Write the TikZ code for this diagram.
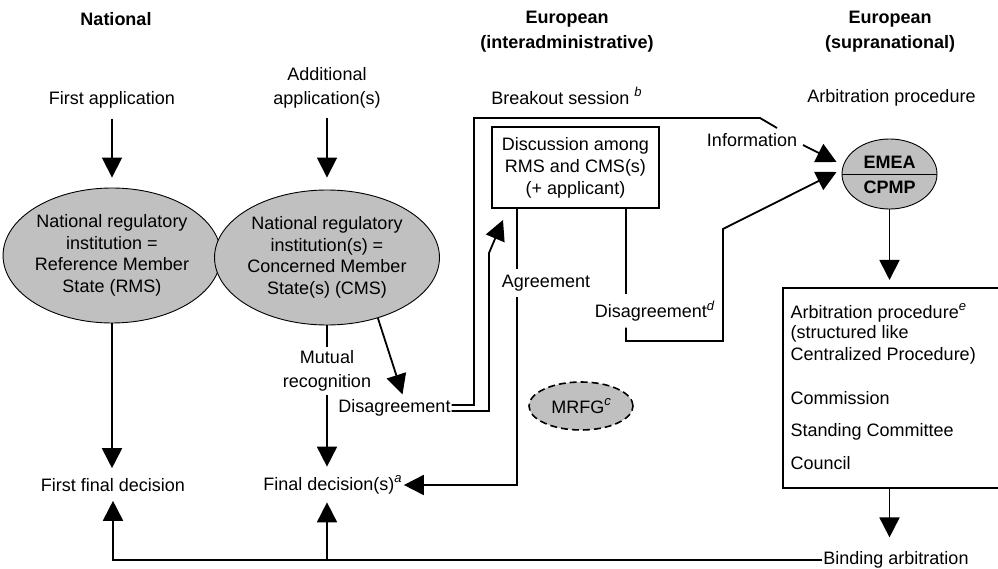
\documentclass[tikz,border=0pt]{standalone}
\usepackage{fontspec}
\setmainfont{Liberation Sans}
\usetikzlibrary{shapes.geometric,arrows.meta}
\definecolor{grayfill}{HTML}{C0C0C0}
\newcommand\supit[1]{\raisebox{0.42em}{\fontsize{13}{13}\selectfont\itshape #1}}
\begin{document}
\begin{tikzpicture}[x=1pt,y=-1pt,
  every node/.style={font=\fontsize{18}{22}\selectfont, inner sep=1pt},
  lbl/.style={align=center},
  hdr/.style={align=center,font=\fontsize{18}{25}\selectfont\bfseries},
  state/.style={ellipse,draw,line width=0.9pt,fill=grayfill,minimum width=209pt,minimum height=135pt,inner sep=0pt,align=center,font=\fontsize{18}{21.5}\selectfont},
  conn/.style={line width=1.8pt},
  arr/.style={conn,-{Triangle[length=20pt,width=20pt]}},
  gaplbl/.style={inner xsep=1pt,inner ysep=5pt},
]
\useasboundingbox (0,0) rectangle (998,569);

% headers
\node[hdr] (hNat) at (116,19) {National};
\node[hdr] (hEuI) at (567,32) {European\\(interadministrative)};
\node[hdr] (hEuS) at (890,32) {European\\(supranational)};

% national column
\node (fa) at (112,100) {First application};
\node[lbl,font=\fontsize{18}{24.5}\selectfont] (aa) at (327,88) {Additional\\application(s)};
\node[state] (rms) at (112,255.5) {National regulatory\\institution =\\Reference Member\\State (RMS)};
\node[state] (cms) at (327,257.5) {National regulatory\\institution(s) =\\Concerned Member\\State(s) (CMS)};
\node (ffd) at (113,485) {First final decision};
\node (fd) at (332.5,485) {Final decision(s)\supit{a}};
\node[lbl,font=\fontsize{18}{24}\selectfont,inner sep=3.5pt] (mr) at (327,371) {Mutual\\recognition};
\node (dis) at (394.5,408) {Disagreement};

% interadministrative
\node (bs) at (566.5,96) {Breakout session \supit{b}};
\node[draw,line width=1.8pt,minimum width=167pt,minimum height=81pt,align=center,inner sep=0pt] (disc) at (575.5,167.5) {Discussion among\\RMS and CMS(s)\\(+ applicant)};
\node[gaplbl,inner ysep=6pt] (agr) at (546,283) {Agreement};
\node[gaplbl,inner ysep=6pt] (dd) at (654.5,311) {Disagreement\supit{d}};
\node[ellipse,draw,dashed,dash pattern=on 7pt off 4pt,line width=1.6pt,fill=grayfill,minimum width=104pt,minimum height=48pt,inner sep=0pt] (mrfg) at (581,406) {MRFG\supit{c}};
\node (info) at (752,140) {Information};

% supranational
\node (ap) at (891.5,98) {Arbitration procedure};
\node[ellipse,draw,line width=0.9pt,fill=grayfill,minimum width=95pt,minimum height=70pt,inner sep=0pt] (emea) at (889.5,174) {};
\draw[line width=0.9pt] (emea.west) -- (emea.east);
\node[font=\fontsize{18}{22}\selectfont\bfseries] (emeaT) at (889.5,162) {EMEA};
\node[font=\fontsize{18}{22}\selectfont\bfseries] (cpmpT) at (889.5,187) {CPMP};
\node[draw,line width=1.8pt,minimum width=240pt,minimum height=200pt,anchor=north west,inner sep=0pt] (arb) at (782,287) {};
\node[anchor=west] (arb1) at (789.5,313) {Arbitration procedure\supit{e}};
\node[anchor=west] (arb2) at (789.5,334) {(structured like};
\node[anchor=west] (arb3) at (789.5,356) {Centralized Procedure)};
\node[anchor=west] (arb4) at (789.5,398) {Commission};
\node[anchor=west] (arb5) at (789.5,432) {Standing Committee};
\node[anchor=west] (arb6) at (789.5,463) {Council};
\node (bind) at (896,560) {Binding arbitration};

% helper coordinates
\coordinate (agx) at (517,0);
\coordinate (ddx) at (626,0);
\coordinate (b1) at (474,118);
\coordinate (b2) at (760,118);
\coordinate (i1) at (777,128);
\coordinate (i2) at (803,145);
\coordinate (g1) at (489,253);
\coordinate (g2) at (503,220);
\coordinate (d1) at (626,341);
\coordinate (d2) at (723,341);
\coordinate (d3) at (723,229);

% connectors
\draw[arr,shorten <=9pt,shorten >=10pt] (fa.south) -- (rms.north);
\draw[arr,shorten <=8pt,shorten >=12pt] (aa.south) -- (cms.north);
\draw[arr,shorten >=9pt] (rms.south) -- (rms.south |- ffd.north);
\draw[conn] (cms.south) -- (mr.north);
\draw[arr,shorten >=8pt] (mr.south) -- (cms.south |- fd.north);
\draw[arr] (cms.-50) -- ([xshift=8pt,yshift=4pt]dis.north);
\draw[conn] ([yshift=3pt]dis.east) -| (b1) -- (b2) -- (i1);
\draw[arr] (i2) -- ([shift={(-5,-12)}]emea.west);
\draw[arr] ([yshift=-3pt]dis.east) -| (g1) -- (g2);
\draw[conn] (disc.south -| agx) -- (agr.north -| agx);
\draw[arr,shorten >=1pt] (agr.south -| agx) |- (fd.east);
\draw[conn] (disc.south -| ddx) -- (dd.north -| ddx);
\draw[arr] (dd.south -| ddx) -- (d1) -- (d2) -- (d3) -- ([xshift=-5pt,yshift=2pt]emea.west);
\draw[arr,shorten >=7pt] (emea.south) -- (emea.south |- arb.north);
\draw[arr,shorten >=13pt] (arb.south -| emea.south) -- (emea.south |- bind.north);
\draw[arr,shorten >=8pt] (bind.west) -| (ffd.south);
\draw[arr,shorten >=7pt] (bind.west -| cms.south) -- (cms.south |- fd.south);
\end{tikzpicture}
\end{document}
